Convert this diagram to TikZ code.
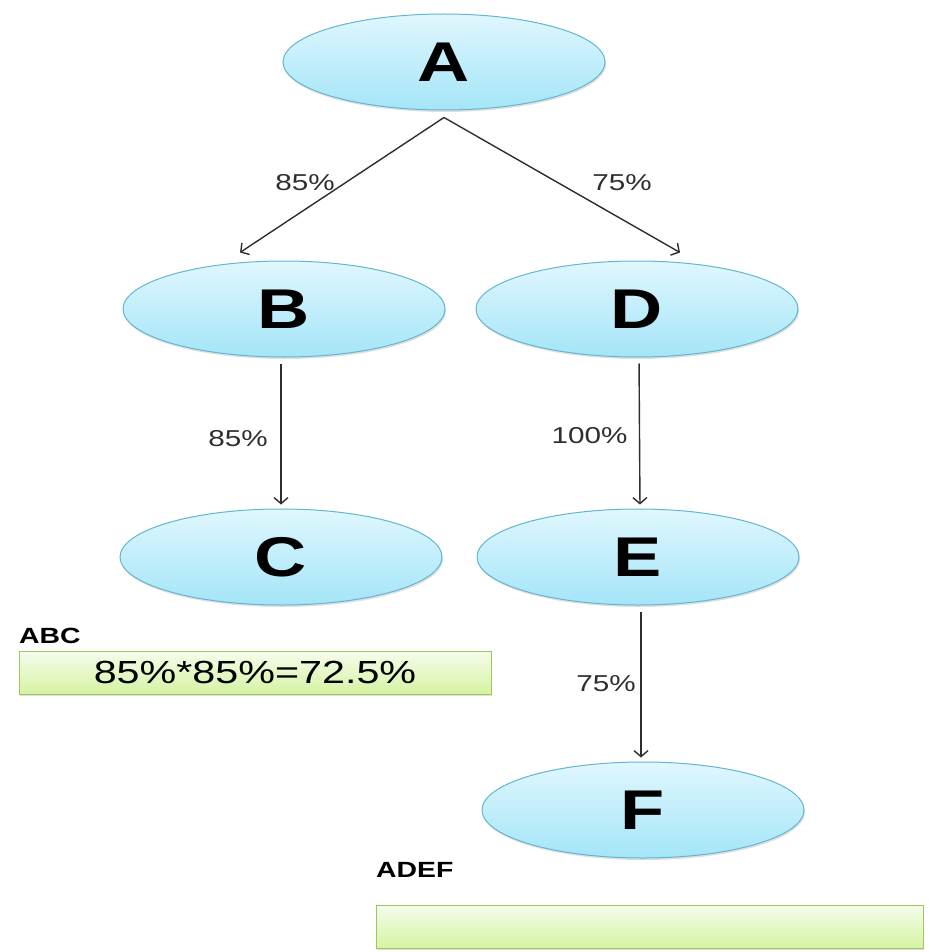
\documentclass[tikz,border=0pt]{standalone}
\usepackage{graphicx}
\usepackage{fontspec}
\setmainfont{Liberation Sans}
\usetikzlibrary{shapes.geometric,shadows,arrows.meta}

\definecolor{nodetop}{HTML}{E0F7FE}
\definecolor{nodebot}{HTML}{A4E5F8}
\definecolor{nodeline}{HTML}{62B6CE}
\definecolor{boxtop}{HTML}{F6FCEC}
\definecolor{boxbot}{HTML}{D5F3A2}
\definecolor{boxline}{HTML}{9CC65E}
\definecolor{edgegray}{HTML}{2E2E2E}

% the reference text is wide, so stretch it sideways
\newcommand{\widetext}[1]{\scalebox{1.29}[1]{#1}}

\begin{document}
\begin{tikzpicture}[x=1pt,y=-1pt,
		bigvertex/.style={ellipse,draw=nodeline,line width=1pt,
			top color=nodetop,bottom color=nodebot,
			minimum width=322pt,minimum height=96pt,inner sep=0pt,
			drop shadow={shadow xshift=1pt,shadow yshift=-2pt,opacity=0.25},
			font=\fontsize{56}{56}\selectfont\bfseries},
		resultbox/.style={rectangle,draw=boxline,line width=1pt,
			top color=boxtop,bottom color=boxbot,inner sep=0pt,
			minimum height=43pt,
			drop shadow={shadow xshift=1pt,shadow yshift=-2pt,opacity=0.25},
			font=\fontsize{32}{32}\selectfont},
		pathname/.style={anchor=west,inner sep=0pt,
			font=\fontsize{22}{22}\selectfont\bfseries},
		edgelabel/.style={inner sep=0pt,text=edgegray,
			font=\fontsize{23}{23}\selectfont},
		branch/.style={-{Straight Barb[length=6pt,width=14pt]},draw=edgegray,line width=1.4pt}
		]
		\useasboundingbox (0,0) rectangle (928,952);

		% tree of nodes
		\node[bigvertex](A) at (444,62){\widetext{A}};
		\node[bigvertex](B) at (284,309){\widetext{B}};
		\node[bigvertex](D) at (637,309){\widetext{D}};
		\node[bigvertex](C) at (281,557){\widetext{C}};
		\node[bigvertex](E) at (638,557){\widetext{E}};
		\node[bigvertex](F) at (643,810){\widetext{F}};

		% branches with their rates
		\draw[branch] ([yshift=-7pt]A.south) -- ([xshift=-44pt,yshift=8pt]B.north)
		node [midway, edgelabel, xshift=-37pt, yshift=2pt]{\widetext{85\%}};
		\draw[branch] ([yshift=-7pt]A.south) -- ([xshift=43pt,yshift=8pt]D.north)
		node [midway, edgelabel, xshift=60pt, yshift=2pt]{\widetext{75\%}};
		\draw[branch,shorten <=6pt,shorten >=4pt] (B.south -| C) -- (C.north)
		node [midway, edgelabel, xshift=-43pt, yshift=-6pt]{\widetext{85\%}};
		\draw[branch,shorten <=6pt,shorten >=4pt] ([xshift=2pt]D.south) -- ([xshift=2pt]E.north)
		node [midway, edgelabel, xshift=-50pt, yshift=-3pt]{\widetext{100\%}};
		\draw[branch,shorten <=6pt,shorten >=4pt] ([xshift=3pt]E.south) -- ([xshift=-2pt]F.north)
		node [midway, edgelabel, xshift=-35pt]{\widetext{75\%}};

		% path results
		\node[pathname](ABCname) at (19,636){\widetext{ABC}};
		\node[resultbox,minimum width=472pt](ABCbox) at (255,672.5){\widetext{85\%*85\%=72.5\%}};
		\node[pathname](ADEFname) at (376,870){\widetext{ADEF}};
		\node[resultbox,minimum width=547pt](ADEFbox) at (649.5,926.5){};
	\end{tikzpicture}
\end{document}
